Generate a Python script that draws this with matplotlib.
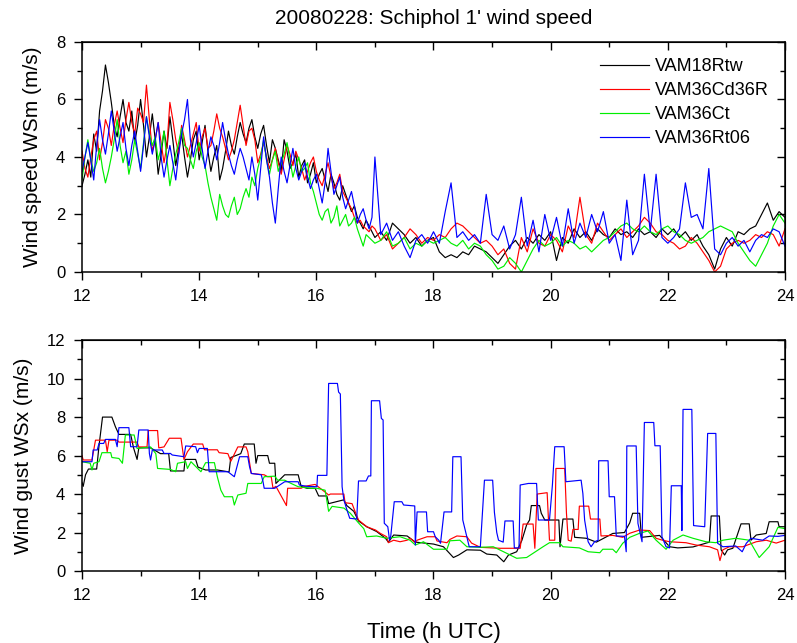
import numpy as np
import matplotlib
matplotlib.use("Agg")
import matplotlib.pyplot as plt
from matplotlib.ticker import MultipleLocator

plt.rcParams["font.family"] = ["Liberation Sans", "DejaVu Sans"]

# Series names / colours -------------------------------------------------------
names = ["VAM18Rtw", "VAM36Cd36R", "VAM36Ct", "VAM36Rt06"]
colors = ["black", "red", "#00ee00", "blue"]

# Top panel: 1' mean wind speed.
# Read every 0.05 h from 12 to 17 UTC and every 0.1 h from 17 to 24 UTC.
hours = np.round(np.concatenate([np.arange(12.0, 16.99, 0.05),
                                 np.arange(17.0, 24.01, 0.1)]), 2)

ws_black = [
    3.0, 3.4, 3.9, 3.3, 4.8, 4.2, 5.6, 6.3, 7.2, 6.6,
    5.9, 5.1, 4.7, 5.4, 6.0, 5.2, 4.9, 5.6, 4.5, 5.1,
    6.0, 5.1, 4.0, 4.7, 5.5, 4.6, 3.4, 4.1, 4.9, 4.3,
    5.4, 4.6, 3.7, 4.3, 4.8, 4.0, 3.3, 3.9, 4.6, 4.9,
    3.9, 4.5, 5.1, 4.2, 3.5, 4.0, 4.4, 3.2, 3.6, 4.2,
    4.9, 4.4, 4.1, 4.7, 5.2, 4.8, 4.5, 5.0, 5.3, 4.7,
    4.3, 4.8, 5.1, 4.4, 3.8, 4.6, 4.3, 3.9, 3.5, 4.6,
    4.2, 3.6, 3.8, 4.1, 3.3, 3.7, 3.9, 3.1, 3.4, 3.8,
    3.1, 3.4, 3.6, 3.2, 2.8, 3.4, 3.1, 2.7, 2.5, 3.0,
    2.7, 2.4, 2.1, 2.3, 1.9, 1.7, 1.5, 1.8, 1.6, 1.4,
    1.2, 1.4, 1.1, 1.7, 1.5, 1.3, 1.0, 1.2, 0.9, 1.1,
    1.2, 0.7, 0.5, 0.6, 0.5, 0.7, 0.6, 0.9, 0.8, 0.7,
    0.5, 0.3, 0.6, 0.9, 1.1, 0.8, 1.2, 1.0, 1.3, 1.1,
    1.4, 0.4, 1.2, 1.0, 1.5, 1.2, 1.4, 1.1, 1.5, 1.3,
    1.2, 1.5, 1.3, 1.4, 1.2, 1.5, 1.3, 1.4, 1.2, 1.5,
    1.3, 1.5, 1.2, 1.4, 1.1, 1.3, 0.9, 0.6, 0.1, 0.8,
    1.2, 0.9, 1.4, 1.3, 1.5, 1.6, 2.0, 2.4, 1.8, 2.1,
    1.9,
]
ws_red = [
    4.2, 3.6, 3.3, 4.0, 4.6, 4.9, 3.9, 4.5, 5.3, 5.0,
    4.4, 5.1, 5.6, 5.0, 4.5, 5.3, 5.9, 5.2, 4.8, 5.7,
    5.5, 5.2, 6.5, 5.3, 4.2, 4.6, 5.2, 4.5, 3.8, 4.4,
    5.9, 5.3, 4.6, 4.1, 5.1, 4.6, 4.0, 4.4, 4.8, 5.2,
    4.2, 4.7, 5.0, 4.3, 4.4, 4.9, 5.5, 5.0, 4.7, 4.3,
    3.9, 4.2, 4.6, 5.2, 5.8, 5.1, 4.4, 4.9, 5.0, 4.6,
    3.8, 4.1, 4.5, 4.0, 3.6, 3.9, 4.3, 3.8, 3.4, 3.9,
    4.4, 4.1, 3.7, 4.2, 3.9, 3.6, 3.2, 3.5, 3.8, 4.0,
    3.5, 3.2, 3.0, 3.4, 3.8, 3.3, 2.9, 3.1, 3.4, 2.8,
    2.6, 2.4, 2.2, 1.9, 1.7, 1.8, 1.6, 1.5, 1.4, 1.6,
    1.5, 1.1, 1.3, 0.8, 1.0, 1.2, 1.5, 1.3, 1.0, 1.2,
    1.1, 1.3, 1.2, 1.5, 1.7, 1.6, 1.4, 1.2, 1.0, 1.1,
    0.9, 0.6, 0.8, 0.3, 0.1, 1.2, 0.7, 1.5, 1.0, 0.9,
    1.3, 1.1, 0.7, 1.6, 1.2, 2.6, 1.3, 1.0, 1.7, 1.4,
    1.1, 1.3, 1.5, 1.2, 1.4, 1.6, 1.9, 1.7, 1.4, 1.3,
    1.1, 1.0, 0.8, 0.9, 1.2, 1.0, 0.7, 0.4, 0.0, 0.2,
    0.8, 1.0, 1.1, 1.0, 1.1, 1.3, 1.2, 1.4, 1.3, 0.9,
    1.5,
]
ws_green = [
    3.2, 4.0, 4.6, 3.9, 3.5, 3.8, 4.3, 3.6, 3.1, 3.5,
    4.0, 4.6, 5.3, 4.4, 3.8, 4.2, 3.4, 3.9, 4.6, 4.1,
    3.6, 4.5, 5.4, 4.8, 4.4, 4.7, 3.9, 4.3, 4.9, 3.9,
    3.0, 3.6, 4.1, 4.5, 5.0, 4.4, 4.3, 3.9, 3.6, 4.2,
    4.5, 4.0, 3.7, 3.1, 2.6, 2.2, 1.8, 2.7, 2.3, 2.0,
    1.9, 2.3, 2.6, 2.0, 2.2, 2.6, 2.9, 2.6, 3.3, 3.0,
    3.6, 4.0, 4.6, 3.9, 3.4, 3.9, 4.2, 3.5, 3.8, 4.1,
    4.5, 3.9, 3.3, 3.7, 4.0, 3.5, 3.6, 3.8, 3.1, 2.8,
    2.4, 2.0, 1.8, 2.1, 2.2, 1.7, 1.9, 2.3, 1.6, 1.8,
    2.0, 1.6, 1.7, 1.9, 1.5, 1.2, 0.9, 1.3, 1.2, 1.1,
    1.0, 1.1, 1.4, 0.9, 1.0, 1.2, 0.8, 1.0, 0.9, 1.1,
    1.0, 1.1, 1.2, 1.0, 0.9, 1.1, 0.8, 1.0, 0.9, 0.6,
    0.4, 0.1, 0.2, 0.5, 0.3, 0.0, 0.4, 0.8, 1.1, 0.9,
    1.0, 1.2, 0.9, 1.1, 1.0, 0.8, 0.9, 0.7, 0.9, 1.1,
    1.2, 1.4, 1.6, 1.7, 1.5, 1.4, 1.6, 1.4, 1.3, 1.5,
    1.6, 1.4, 1.3, 1.1, 1.0, 1.1, 1.2, 1.4, 1.5, 1.6,
    1.5, 1.4, 1.0, 0.7, 0.4, 0.2, 0.6, 1.0, 1.6, 2.0,
    1.7,
]
ws_blue = [
    3.5, 4.0, 4.5, 3.9, 3.2, 4.4, 5.3, 4.6, 4.1, 4.8,
    5.6, 4.9, 4.2, 4.7, 5.2, 4.3, 3.7, 4.4, 4.9, 4.2,
    3.5, 4.4, 5.4, 4.7, 4.1, 4.6, 5.2, 4.0, 3.3, 3.9,
    4.4, 3.8, 3.2, 4.1, 4.8, 5.3, 6.0, 4.6, 4.0, 4.5,
    5.1, 4.3, 3.6, 4.2, 4.7, 4.4, 3.9, 4.5, 5.2, 4.6,
    4.1, 3.7, 3.4, 3.9, 4.3, 4.0, 3.6, 3.2, 4.0, 3.4,
    2.5, 3.6, 4.7, 3.9, 3.3, 2.4, 1.7, 2.9, 4.0, 3.5,
    3.1, 3.7, 4.3, 3.6, 3.2, 3.5, 3.8, 3.3, 2.9, 3.2,
    3.4, 2.9, 2.4, 3.1, 4.3, 3.5, 2.7, 3.0, 3.3, 2.6,
    2.2, 2.5, 2.8, 2.3, 1.7, 2.0, 2.2, 1.8, 1.5, 1.9,
    4.0, 1.3, 1.7, 1.1, 1.4, 0.9, 0.5, 1.1, 1.3, 1.0,
    1.4, 1.0, 2.1, 3.1, 1.2, 1.4, 1.1, 1.3, 1.0, 2.7,
    1.3, 1.1, 1.6, 0.8, 1.3, 2.6, 0.9, 1.8, 0.7, 2.0,
    1.1, 1.9, 0.9, 2.2, 1.0, 1.7, 1.2, 2.0, 1.4, 2.1,
    1.0, 1.3, 0.4, 2.5, 0.6, 1.1, 3.4, 1.4, 3.4, 1.2,
    1.0, 1.2, 1.5, 3.1, 1.9, 2.0, 1.5, 3.6, 0.8, 0.6,
    1.0, 1.2, 0.9, 1.1, 0.7, 1.1, 1.3, 1.2, 1.5, 1.4,
    0.9,
]

# Bottom panel: gust, read as break points (time h, value m/s) ----------------
gx_black_t = [12.0, 12.02, 12.06, 12.11, 12.25, 12.29, 12.35, 12.51, 12.57, 12.63,
              12.83, 12.88, 12.94, 12.97, 13.17, 13.34, 13.48, 13.51, 13.74, 13.76,
              13.94, 13.98, 14.11, 14.31, 14.51, 14.54, 14.71, 14.77, 14.94, 14.97,
              15.0, 15.17, 15.2, 15.29, 15.31, 15.46, 15.69, 15.74, 15.84, 15.98,
              16.04, 16.18, 16.21, 16.47, 16.52, 16.64, 16.72, 16.86, 17.03, 17.18,
              17.23, 17.32, 17.55, 17.69, 18.0, 18.17, 18.34, 18.43, 18.57, 18.8,
              18.91, 19.08, 19.2, 19.28, 19.42, 19.51, 19.59, 19.64, 19.67, 19.81,
              19.84, 19.9, 20.14, 20.16, 20.21, 20.38, 20.41, 20.61, 20.78, 21.06,
              21.26, 21.35, 21.4, 21.52, 21.55, 21.86, 22.03, 22.17, 22.43, 22.6,
              22.71, 22.74, 22.88, 22.91, 22.97, 23.02, 23.11, 23.25, 23.39, 23.42,
              23.51, 23.68, 23.73, 23.88, 23.9, 24.0]
gx_black_v = [4.6, 4.4, 5.0, 5.3, 5.3, 6.5, 8.0, 8.0, 7.5, 7.1,
              7.1, 6.4, 5.8, 6.4, 6.4, 6.1, 6.1, 5.2, 5.2, 5.8,
              5.8, 5.4, 5.25, 5.25, 5.15, 5.9, 6.1, 6.6, 6.6, 5.6,
              6.0, 6.0, 5.6, 5.6, 4.55, 5.0, 5.0, 4.4, 4.3, 4.3,
              3.9, 3.9, 3.5, 3.7, 3.4, 3.1, 2.6, 2.3, 2.05, 1.7,
              1.5, 1.87, 1.82, 1.5, 1.4, 1.26, 0.7, 0.83, 1.1, 1.08,
              0.88, 0.83, 0.48, 0.83, 1.0, 1.6, 2.4, 2.65, 3.4, 3.4,
              3.0, 2.65, 2.65, 1.26, 2.7, 2.7, 1.75, 1.7, 1.5, 1.95,
              2.0, 2.5, 3.0, 3.0, 1.75, 1.85, 1.26, 1.2, 1.25, 1.4,
              1.5, 2.86, 2.86, 1.1, 0.83, 1.1, 1.18, 2.45, 2.45, 1.6,
              1.87, 1.95, 2.56, 2.56, 2.3, 2.3]

gx_red_t = [12.0, 12.02, 12.17, 12.23, 12.4, 12.43, 12.46, 12.6, 12.63, 12.94,
            12.97, 13.11, 13.13, 13.29, 13.31, 13.4, 13.49, 13.69, 13.74, 13.8,
            13.9, 14.06, 14.09, 14.31, 14.34, 14.49, 14.54, 14.66, 14.8, 14.83,
            14.89, 15.11, 15.17, 15.23, 15.26, 15.31, 15.49, 15.51, 15.74, 15.8,
            15.98, 16.15, 16.21, 16.24, 16.47, 16.49, 16.61, 16.66, 16.72, 16.86,
            17.01, 17.09, 17.2, 17.23, 17.32, 17.43, 17.55, 17.6, 17.69, 17.72,
            17.89, 18.03, 18.06, 18.23, 18.28, 18.4, 18.57, 18.65, 18.8, 19.14,
            19.48, 19.53, 19.7, 19.73, 19.77, 19.94, 19.98, 20.07, 20.09, 20.24,
            20.27, 20.3, 20.35, 20.38, 20.47, 20.49, 20.65, 20.68, 20.84, 20.86,
            21.06, 21.23, 21.35, 21.52, 21.69, 21.8, 21.91, 22.03, 22.31, 22.48,
            22.71, 22.85, 22.89, 22.94, 23.05, 23.28, 23.51, 23.68, 23.85, 24.0]
gx_red_v = [6.0, 5.77, 5.77, 6.8, 6.8, 6.2, 6.8, 6.8, 6.7, 6.7,
            6.45, 6.45, 7.3, 7.3, 6.4, 6.45, 6.9, 6.9, 5.8, 6.2,
            6.6, 6.6, 6.3, 6.3, 6.15, 6.1, 5.7, 6.45, 6.45, 6.2,
            5.07, 5.0, 4.9, 4.9, 4.3, 4.4, 3.4, 4.3, 4.3, 4.4,
            4.5, 4.1, 3.95, 4.0, 4.0, 3.55, 3.5, 3.1, 2.65, 2.3,
            2.13, 1.96, 1.78, 1.47, 1.6, 1.52, 1.6, 1.7, 1.47, 1.6,
            1.78, 1.78, 1.56, 1.47, 1.64, 1.82, 1.78, 1.45, 1.23, 1.18,
            1.18, 2.44, 2.44, 1.18, 4.0, 4.07, 1.6, 1.6, 5.33, 5.33,
            3.0, 1.6, 1.55, 2.16, 2.16, 3.37, 3.37, 2.7, 2.7, 1.82,
            1.85, 1.75, 1.96, 2.13, 2.1, 1.7, 1.6, 1.52, 1.47, 1.35,
            1.26, 1.1, 0.54, 1.1, 1.26, 1.26, 1.52, 1.6, 1.45, 1.6]

gx_green_t = [12.0, 12.14, 12.17, 12.2, 12.29, 12.34, 12.49, 12.51, 12.63, 12.69,
              12.74, 12.89, 12.94, 13.17, 13.26, 13.29, 13.51, 13.6, 13.63, 13.77,
              13.8, 13.86, 14.03, 14.11, 14.26, 14.31, 14.37, 14.43, 14.57, 14.6,
              14.66, 14.8, 14.83, 15.06, 15.11, 15.29, 15.34, 15.46, 15.57, 15.69,
              15.91, 16.01, 16.15, 16.21, 16.27, 16.47, 16.58, 16.72, 16.81, 16.86,
              17.03, 17.2, 17.43, 17.6, 17.69, 17.83, 18.0, 18.23, 18.28, 18.45,
              18.57, 18.8, 19.02, 19.25, 19.42, 19.59, 19.7, 19.87, 19.98, 20.15,
              20.21, 20.49, 20.64, 20.84, 20.89, 21.06, 21.12, 21.23, 21.35, 21.52,
              21.66, 21.8, 21.97, 22.09, 22.26, 22.43, 22.65, 22.82, 22.94, 23.16,
              23.39, 23.56, 23.73, 23.88, 24.0]
gx_green_v = [5.68, 5.6, 5.25, 5.6, 5.68, 6.15, 6.15, 5.9, 5.85, 5.6,
              7.07, 7.07, 6.37, 6.45, 6.1, 5.33, 5.28, 5.16, 5.6, 5.68,
              5.33, 5.68, 5.16, 5.63, 5.63, 4.9, 4.2, 3.86, 3.86, 3.43,
              3.95, 4.04, 4.55, 4.55, 4.9, 4.93, 4.72, 4.72, 4.55, 4.38,
              4.3, 4.3, 4.2, 3.1, 3.36, 3.27, 3.0, 2.5, 2.2, 1.78,
              1.82, 1.7, 1.78, 1.6, 1.35, 1.52, 1.13, 1.13, 1.57, 1.6,
              1.26, 1.23, 1.26, 0.92, 0.66, 0.7, 0.92, 1.26, 1.47, 1.47,
              1.26, 1.2, 1.0, 0.95, 1.13, 1.13, 0.95, 1.44, 1.75, 1.96,
              2.08, 1.6, 1.13, 1.6, 1.87, 1.7, 1.52, 1.47, 1.6, 1.7,
              1.6, 0.7, 1.26, 2.27, 2.2]

gx_blue_t = [12.0, 12.17, 12.19, 12.26, 12.29, 12.37, 12.4, 12.57, 12.6, 12.63,
             12.8, 12.83, 12.94, 12.97, 13.13, 13.15, 13.17, 13.2, 13.37, 13.4,
             13.51, 13.54, 13.74, 13.77, 13.94, 13.97, 14.0, 14.14, 14.17, 14.49,
             14.6, 14.69, 14.83, 14.86, 14.89, 15.06, 15.09, 15.11, 15.29, 15.46,
             15.69, 15.71, 15.84, 16.01, 16.02, 16.18, 16.21, 16.36, 16.38, 16.41,
             16.44, 16.47, 16.52, 16.57, 16.69, 16.72, 16.85, 16.89, 16.93, 16.94,
             17.08, 17.11, 17.14, 17.16, 17.22, 17.25, 17.27, 17.33, 17.46, 17.49,
             17.68, 17.69, 17.72, 17.88, 17.9, 18.0, 18.03, 18.09, 18.12, 18.18,
             18.31, 18.33, 18.47, 18.5, 18.61, 18.8, 18.87, 19.01, 19.04, 19.08,
             19.11, 19.19, 19.22, 19.36, 19.38, 19.46, 19.48, 19.62, 19.76, 19.79,
             19.98, 20.03, 20.07, 20.23, 20.26, 20.52, 20.55, 20.58, 20.64, 20.69,
             20.75, 20.81, 20.82, 20.98, 21.0, 21.09, 21.12, 21.26, 21.29, 21.3,
             21.46, 21.49, 21.56, 21.6, 21.76, 21.78, 21.87, 21.9, 21.97, 22.03,
             22.06, 22.23, 22.24, 22.26, 22.41, 22.44, 22.63, 22.68, 22.82, 22.85,
             22.94, 23.16, 23.27, 23.34, 23.42, 23.62, 23.73, 23.88, 24.0]
gx_blue_v = [5.68, 5.68, 6.29, 6.29, 6.63, 6.63, 6.84, 6.84, 6.46, 7.45,
             7.45, 6.46, 6.46, 7.33, 7.33, 6.11, 5.77, 6.29, 6.29, 6.11,
             6.11, 6.03, 5.94, 6.5, 6.46, 6.15, 6.37, 6.37, 5.16, 5.16,
             4.9, 5.94, 5.94, 5.42, 5.07, 5.0, 4.64, 4.3, 4.3, 4.64,
             4.64, 4.47, 4.4, 4.38, 4.97, 4.97, 9.75, 9.75, 9.3, 9.2,
             4.38, 3.69, 3.2, 2.74, 2.7, 4.68, 4.68, 4.94, 4.94, 8.85,
             8.85, 7.93, 7.85, 2.48, 2.3, 1.6, 1.8, 3.6, 3.6, 3.43,
             3.38, 1.35, 3.07, 3.07, 2.04, 2.04, 1.78, 1.6, 1.44, 3.07,
             3.07, 5.94, 5.94, 2.65, 1.26, 1.26, 4.72, 4.72, 3.05, 2.0,
             1.6, 1.5, 2.6, 2.6, 1.2, 1.2, 4.47, 4.55, 4.55, 2.65,
             2.65, 4.47, 6.46, 6.46, 4.64, 4.72, 4.03, 2.65, 1.52, 1.26,
             1.52, 1.6, 5.73, 5.73, 3.86, 3.86, 1.82, 1.8, 1.0, 6.5,
             6.5, 2.48, 1.52, 7.72, 7.72, 6.51, 6.51, 1.78, 1.26, 1.2,
             4.43, 4.43, 2.1, 8.4, 8.4, 2.36, 2.3, 7.15, 7.15, 1.44,
             1.26, 1.3, 1.0, 1.44, 1.7, 1.6, 1.82, 1.8, 1.85]

ws_all = [ws_black, ws_red, ws_green, ws_blue]
gx_all = [(gx_black_t, gx_black_v), (gx_red_t, gx_red_v),
          (gx_green_t, gx_green_v), (gx_blue_t, gx_blue_v)]

# Figure ----------------------------------------------------------------------
fig = plt.figure(figsize=(7.97, 6.43), dpi=100)
ax1 = fig.add_axes([0.1029, 0.577, 0.882, 0.3577])
ax2 = fig.add_axes([0.1029, 0.112, 0.882, 0.359])

for ys, c, n in zip(ws_all, colors, names):
    ax1.plot(hours, ys, color=c, lw=0.85, label=n)
for (tt, vv), c in zip(gx_all, colors):
    ax2.plot(tt, vv, color=c, lw=0.85)


def style(ax, ymax):
    ax.set_xlim(12, 24)
    ax.set_ylim(0, ymax)
    ax.xaxis.set_major_locator(MultipleLocator(2))
    ax.xaxis.set_minor_locator(MultipleLocator(1))
    ax.yaxis.set_major_locator(MultipleLocator(2))
    ax.yaxis.set_minor_locator(MultipleLocator(1))
    ax.tick_params(which="major", direction="out", length=6, width=1,
                   labelsize=12, pad=6)
    ax.tick_params(which="minor", direction="out", length=3.5, width=1)
    for s in ax.spines.values():
        s.set_linewidth(1.1)
    top = ax.secondary_xaxis("top")
    top.xaxis.set_major_locator(MultipleLocator(2))
    top.xaxis.set_minor_locator(MultipleLocator(1))
    top.tick_params(which="major", direction="in", length=6, width=1, labeltop=False)
    top.tick_params(which="minor", direction="in", length=3.5, width=1)
    right = ax.secondary_yaxis("right")
    right.yaxis.set_major_locator(MultipleLocator(2))
    right.yaxis.set_minor_locator(MultipleLocator(1))
    right.tick_params(which="major", direction="in", length=6, width=1, labelright=False)
    right.tick_params(which="minor", direction="in", length=3.5, width=1)


style(ax1, 8)
style(ax2, 12)

ax1.set_title("20080228: Schiphol 1' wind speed", fontsize=15, pad=13)
ax1.set_ylabel("Wind speed WSm (m/s)", fontsize=15, labelpad=10)
ax2.set_ylabel("Wind gust WSx (m/s)", fontsize=15, labelpad=10)
ax2.set_xlabel("Time (h UTC)", fontsize=16, labelpad=14)

ax1.legend(loc="upper right", frameon=False, fontsize=13, handlelength=2.7,
           handletextpad=0.35, labelspacing=0.38, borderaxespad=0.5)

fig.savefig("out.png", dpi=100)
